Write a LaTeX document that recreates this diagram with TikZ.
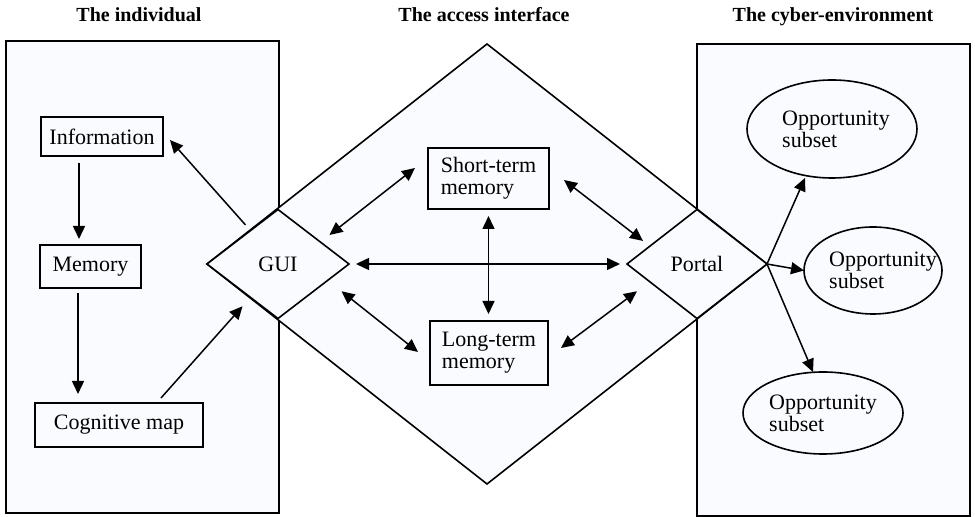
\documentclass[tikz,border=0pt]{standalone}
\usepackage{fontspec}
\setmainfont{Liberation Serif}
\usetikzlibrary{shapes.geometric,arrows.meta}
\definecolor{panel}{RGB}{249,251,254}
\begin{document}
\begin{tikzpicture}[x=0.5pt,y=-0.5pt,
  font=\fontsize{11}{11}\selectfont,
  lw/.style={line width=0.8pt},
  rbox/.style={draw, lw, fill=panel, inner sep=0pt, outer sep=0pt},
  dia/.style={diamond, draw, lw, fill=panel, inner sep=0pt, outer sep=0pt, minimum width=71pt, minimum height=54.5pt},
  oval/.style={ellipse, draw, lw, fill=panel, inner sep=0pt, outer sep=0pt},
  title/.style={font=\fontsize{10}{12}\selectfont\bfseries, anchor=base},
  arr/.style={line width=0.75pt, -{Triangle[length=6.5pt,width=6pt]}},
  darr/.style={line width=0.75pt, {Triangle[length=6.5pt,width=6pt]}-{Triangle[length=6.5pt,width=6pt]}},
]
\useasboundingbox (0,0) rectangle (975,517);
\fill[white] (0,0) rectangle (975,517);

% titles
\node[title] (t1) at (139,22) {The individual};
\node[title] (t2) at (484,22) {The access interface};
\node[title] (t3) at (833,22) {The cyber-environment};

% panels
\node[rbox, minimum width=136.5pt, minimum height=236pt] (indiv) at (142.5,277) {};
\node[rbox, minimum width=136.5pt, minimum height=236pt] (cyber) at (833.5,280) {};
\node[diamond, draw, lw, fill=panel, inner sep=0pt, outer sep=0pt, minimum width=280pt, minimum height=220pt] (access) at (487,264) {};

% diamonds
\node[dia] (gui) at (278,264) {GUI};
\node[dia, minimum width=70pt] (portal) at (697,264) {Portal};

% boxes
\node[rbox, minimum width=61pt, minimum height=19.5pt] (info) at (102,136.5) {Information};
\node[rbox, minimum width=50.5pt, minimum height=21.5pt] (mem) at (90.5,266.5) {Memory};
\node[rbox, minimum width=84pt, minimum height=22pt] (cog) at (119,425) {Cognitive map};
\node[rbox, align=left, minimum width=60.5pt, minimum height=30.5pt] (stm) at (488.5,178.5) {Short-term\\memory};
\node[rbox, align=left, minimum width=59pt, minimum height=32pt] (ltm) at (489,353) {Long-term\\memory};

% ellipses
\node[oval, minimum width=85pt, minimum height=49pt, label={[align=left, xshift=2pt]center:Opportunity\\subset}] (opp1) at (832,129) {};
\node[oval, minimum width=69pt, minimum height=43.5pt, label={[align=left, xshift=5pt]center:Opportunity\\subset}] (opp2) at (873,270.5) {};
\node[oval, minimum width=80pt, minimum height=41pt, label={[align=left]center:Opportunity\\subset}] (opp3) at (823,413) {};

% arrows in the individual
\draw[arr] ([xshift=-11.5pt,yshift=-3.5pt]info.south) -- ([xshift=-5.75pt,yshift=3pt]mem.north);
\draw[arr] ([xshift=-6.25pt,yshift=-2.5pt]mem.south) -- ([xshift=-20.5pt,yshift=4.5pt]cog.north);
\draw[arr] ([xshift=21pt,yshift=2.5pt]cog.north) -- ([yshift=-7.5pt]gui.south west);
\draw[arr] ([xshift=1.5pt,yshift=5.9pt]gui.north west) -- ([xshift=3.5pt,yshift=-1.75pt]info.east);

% access interface arrows
\draw[darr] ([xshift=8pt,yshift=0.9pt]gui.north east) -- ([xshift=-6.5pt,yshift=5.25pt]stm.west);
\draw[darr] ([xshift=7.5pt,yshift=-0.75pt]stm.east) -- ([xshift=-9.5pt,yshift=-2.1pt]portal.north west);
\draw[darr, shorten <=3.5pt, shorten >=3.5pt] (gui.east) -- (portal.west);
\draw[darr, shorten <=3.5pt, shorten >=3.5pt] (stm.south) -- (stm.south |- ltm.north);
\draw[darr] ([xshift=14pt]gui.south east) -- ([xshift=-6pt,yshift=0.5pt]ltm.west);
\draw[darr] ([xshift=6.5pt,yshift=2.5pt]ltm.east) -- ([xshift=-12.5pt]portal.south west);

% portal to opportunity subsets
\draw[arr] (portal.east) -- ([xshift=-13.5pt]opp1.south);
\draw[arr] (portal.east) -- (opp2.west);
\draw[arr] (portal.east) -- ([xshift=-5pt]opp3.north);
\end{tikzpicture}
\end{document}
